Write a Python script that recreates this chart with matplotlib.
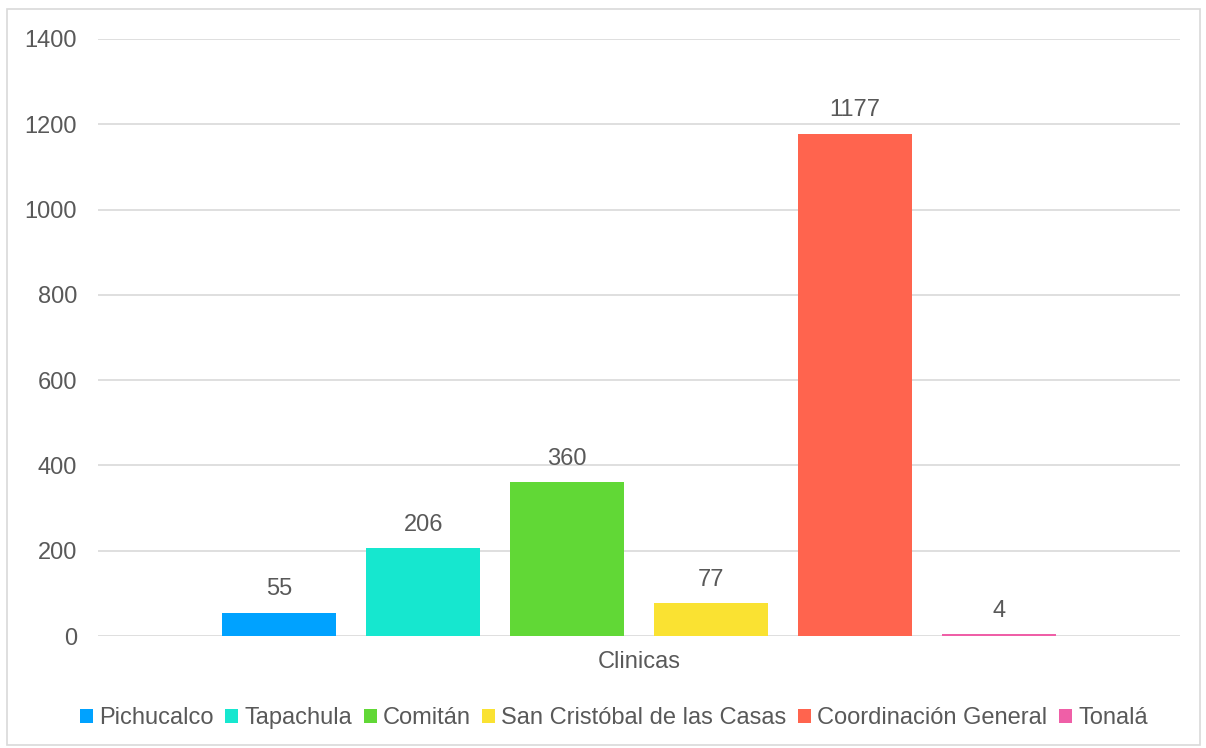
import matplotlib.pyplot as plt
from matplotlib.patches import Rectangle, Patch

# Data
categoria = "Clinicas"
sedes = ["Pichucalco", "Tapachula", "Comitán", "San Cristóbal de las Casas",
         "Coordinación General", "Tonalá"]
valores = [55, 206, 360, 77, 1177, 4]
colores = ["#00A2FF", "#16E7CF", "#61D836", "#FAE232", "#FF644E", "#EF5FA7"]
yticks = [0, 200, 400, 600, 800, 1000, 1200, 1400]

plt.rcParams['font.family'] = ['Liberation Sans', 'DejaVu Sans']
texto = "#595959"
fs = 17

fig = plt.figure(figsize=(12.06, 7.48), dpi=100)
ax = fig.add_axes([0.0813, 0.1497, 0.8971, 0.7982])

x = list(range(len(valores)))
bars = ax.bar(x, valores, width=0.794, color=colores, zorder=3)

for xi, v in zip(x, valores):
    ax.annotate(str(v), (xi, v), xytext=(0, 17), textcoords="offset points",
                ha="center", va="center", fontsize=fs, color=texto)

ax.set_ylim(0, 1400)
ax.set_xlim(-1.26, 6.26)
ax.set_yticks(yticks)
ax.set_yticklabels([str(t) for t in yticks], fontsize=fs, color=texto)
ax.set_xticks([2.5])
ax.set_xticklabels([categoria], fontsize=fs, color=texto)
ax.tick_params(axis="both", length=0)
ax.tick_params(axis="x", pad=11)
ax.tick_params(axis="y", pad=15)
ax.grid(axis="y", color="#D9D9D9", linewidth=1.2, zorder=0)
for s in ax.spines.values():
    s.set_visible(False)

handles = [Patch(facecolor=c, edgecolor="none") for c in colores]
fig.legend(handles, sedes, loc="center", bbox_to_anchor=(0.509, 0.040), ncol=6,
           frameon=False, fontsize=fs, handlelength=0.55, handleheight=0.55,
           handletextpad=0.25, columnspacing=0.5, labelcolor=texto)

# outer border
fig.patches.append(Rectangle((7 / 1206, 3 / 748), 1193 / 1206, 736 / 748,
                             transform=fig.transFigure, fill=False,
                             edgecolor="#D9D9D9", linewidth=1.2))

fig.savefig("out.png", dpi=100)
